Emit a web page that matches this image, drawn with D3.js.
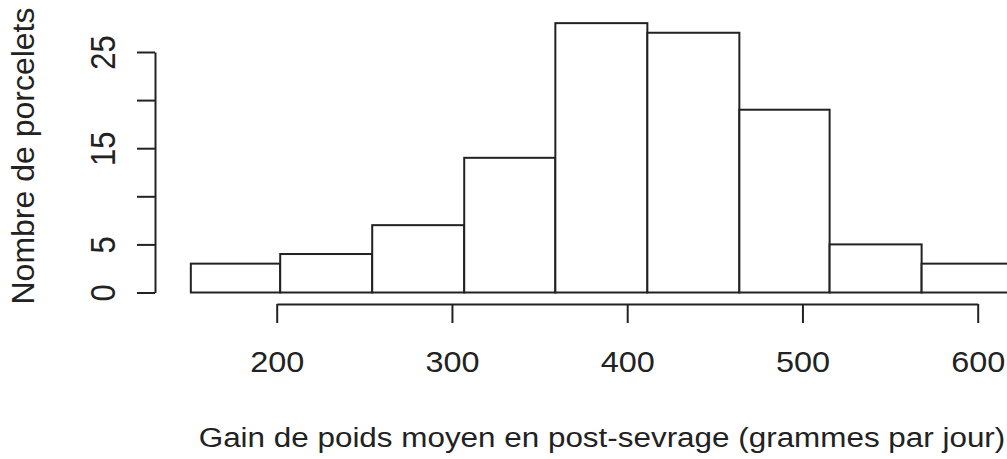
<!DOCTYPE html>
<html>
<head>
<meta charset="utf-8">
<script src="https://cdn.jsdelivr.net/npm/d3@7"></script>
<style>
  body { margin: 0; background: #fff; }
  svg { display: block; font-family: "Liberation Sans", Arial, sans-serif; }
  .bar { fill: #fff; stroke: #222; stroke-width: 2; }
  .axis path, .axis line { stroke: #222; stroke-width: 2; }
  .axis text { fill: #222; font-size: 31px; }
  .title { fill: #222; }
</style>
</head>
<body>
<svg id="chart" width="1007" height="459"></svg>
<script>
// bin edges (grammes par jour) and counts
var binEdges = [151, 202, 254.5, 307, 359, 411.5, 464, 515.5, 568, 620.5]
var counts = [3, 4, 7, 14, 28, 27, 19, 5, 3]
var xTicks = [200, 300, 400, 500, 600]
var yTicks = [0, 5, 10, 15, 20, 25]
var yLabels = [0, 5, 15, 25]
var xTitle = 'Gain de poids moyen en post-sevrage (grammes par jour)'
var yTitle = 'Nombre de porcelets'

var svg = d3.select('#chart')

var xScale = d3.scaleLinear()
    .domain([200, 600])
    .range([276.7, 977.7])
var yScale = d3.scaleLinear()
    .domain([0, 25])
    .range([292.5, 52])

var bins = []
for (let i = 0; i < counts.length; i++) {
    bins.push({'x0': binEdges[i], 'x1': binEdges[i + 1], 'n': counts[i]})
}

svg.append('g')
    .selectAll('.bar')
    .data(bins)
    .enter()
    .append('rect')
    .attr('class', 'bar')
    .attr('x', function(d) { return xScale(d.x0) })
    .attr('y', function(d) { return yScale(d.n) })
    .attr('width', function(d) { return xScale(d.x1) - xScale(d.x0) })
    .attr('height', function(d) { return yScale(0) - yScale(d.n) })

// x axis
var xAxis = svg.append('g')
    .attr('class', 'axis')
    .attr('transform', 'translate(0,304)')
    .call(d3.axisBottom(xScale).tickValues(xTicks).tickSize(19).tickSizeOuter(0).tickFormat(d3.format('d')))
xAxis.selectAll('text')
    .attr('y', 0)
    .attr('dy', 0)
    .style('font-size', '30px')
    .attr('transform', 'translate(0,68) scale(1.08,1)')

// y axis, labels turned like R does
var yAxis = svg.append('g')
    .attr('class', 'axis')
    .attr('transform', 'translate(155,0)')
    .call(d3.axisLeft(yScale).tickValues(yTicks).tickSize(18).tickSizeOuter(0)
        .tickFormat(function(d) { return yLabels.indexOf(d) >= 0 ? d : '' }))
yAxis.selectAll('text')
    .attr('x', 0)
    .attr('dy', 0)
    .attr('text-anchor', 'middle')
    .attr('transform', 'translate(-40,0) scale(1.15,1) rotate(-90)')

// titles
svg.append('text')
    .attr('class', 'title')
    .attr('text-anchor', 'middle')
    .style('font-size', '27px')
    .attr('transform', 'translate(602,447) scale(1.164,1)')
    .text(xTitle)

svg.append('text')
    .attr('class', 'title')
    .attr('text-anchor', 'middle')
    .style('font-size', '32px')
    .attr('transform', 'translate(34,156) rotate(-90)')
    .text(yTitle)
</script>
</body>
</html>
